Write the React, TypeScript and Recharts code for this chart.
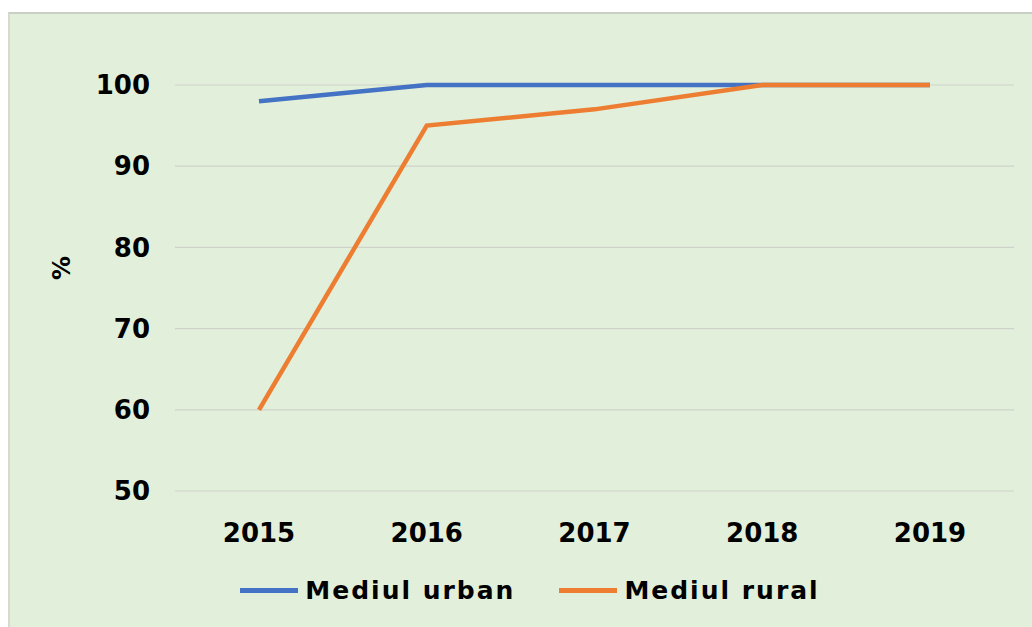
import { CartesianGrid, Legend, Line, LineChart, XAxis, YAxis } from "recharts";

const years = ["2015", "2016", "2017", "2018", "2019"];
const urban = [98, 100, 100, 100, 100];
const rural = [60, 95, 97, 100, 100];
const yTicks = [50, 60, 70, 80, 90, 100];

const seriesOrder = ["urban", "rural"];
const seriesNames = { urban: "Mediul urban", rural: "Mediul rural" };
const BLUE = "#4472c4";
const ORANGE = "#ed7d31";
const FONT = "'DejaVu Sans', Verdana, sans-serif";

const data = years.map((year, i) => ({ year, urban: urban[i], rural: rural[i] }));

function LegendContent({ payload }: { payload?: any[] }) {
  const items = [...(payload ?? [])].sort(
    (a, b) => seriesOrder.indexOf(a.dataKey) - seriesOrder.indexOf(b.dataKey)
  );
  return (
    <div style={{ display: "flex", justifyContent: "center", alignItems: "center", paddingLeft: 28 }}>
      {items.map((p, i) => (
        <div key={p.value} style={{ display: "flex", alignItems: "center", marginLeft: i ? 44 : 0 }}>
          <div style={{ width: 58, height: 5, background: p.color, marginRight: 7 }} />
          <span
            style={{
              fontFamily: FONT,
              fontWeight: "bold",
              fontSize: 25,
              letterSpacing: 2,
              color: "#000",
            }}
          >
            {p.value}
          </span>
        </div>
      ))}
    </div>
  );
}

function PercentLabel({ viewBox }: { viewBox?: any }) {
  const x = (viewBox?.x ?? 0) + 62;
  const y = (viewBox?.y ?? 0) + (viewBox?.height ?? 0) / 2 - 20;
  return (
    <text
      x={x}
      y={y}
      transform={`rotate(-90, ${x}, ${y})`}
      textAnchor="middle"
      dominantBaseline="central"
      fontFamily={FONT}
      fontWeight="bold"
      fontSize={24}
      fill="#000"
    >
      %
    </text>
  );
}

export default function App() {
  const tickStyle = { fontFamily: FONT, fontWeight: "bold", fontSize: 26, fill: "#000" };
  return (
    <div style={{ position: "absolute", left: 0, top: 0, width: 1032, height: 627, background: "#fff" }}>
      <div
        style={{
          position: "absolute",
          left: 8,
          top: 12,
          width: 1024,
          height: 615,
          background: "#e2efda",
          borderTop: "2px solid #c9cfc5",
          borderLeft: "2px solid #d5dbd0",
          boxSizing: "border-box",
        }}
      />
      <div style={{ position: "absolute", left: 0, top: 0 }}>
        <LineChart width={1032} height={627} data={data} margin={{ top: 85, right: 18, bottom: 106, left: 0 }}>
          <CartesianGrid vertical={false} stroke="#cfd3cc" strokeWidth={1.2} />
          <XAxis
            dataKey="year"
            axisLine={false}
            tickLine={false}
            tickSize={0}
            tickMargin={33}
            padding={{ left: 84, right: 84 }}
            tick={tickStyle}
            interval={0}
          />
          <YAxis
            width={175}
            domain={[50, 100]}
            ticks={yTicks}
            axisLine={false}
            tickLine={false}
            tickSize={0}
            tickMargin={25}
            tick={tickStyle}
            label={<PercentLabel />}
          />
          <Legend
            layout="horizontal"
            verticalAlign="middle"
            align="center"
            content={<LegendContent />}
            wrapperStyle={{ top: 576, left: 0, width: 1032 }}
          />
          <Line
            type="linear"
            dataKey="urban"
            name={seriesNames.urban}
            stroke={BLUE}
            strokeWidth={4.5}
            dot={false}
            isAnimationActive={false}
          />
          <Line
            type="linear"
            dataKey="rural"
            name={seriesNames.rural}
            stroke={ORANGE}
            strokeWidth={4.5}
            dot={false}
            isAnimationActive={false}
          />
        </LineChart>
      </div>
    </div>
  );
}
